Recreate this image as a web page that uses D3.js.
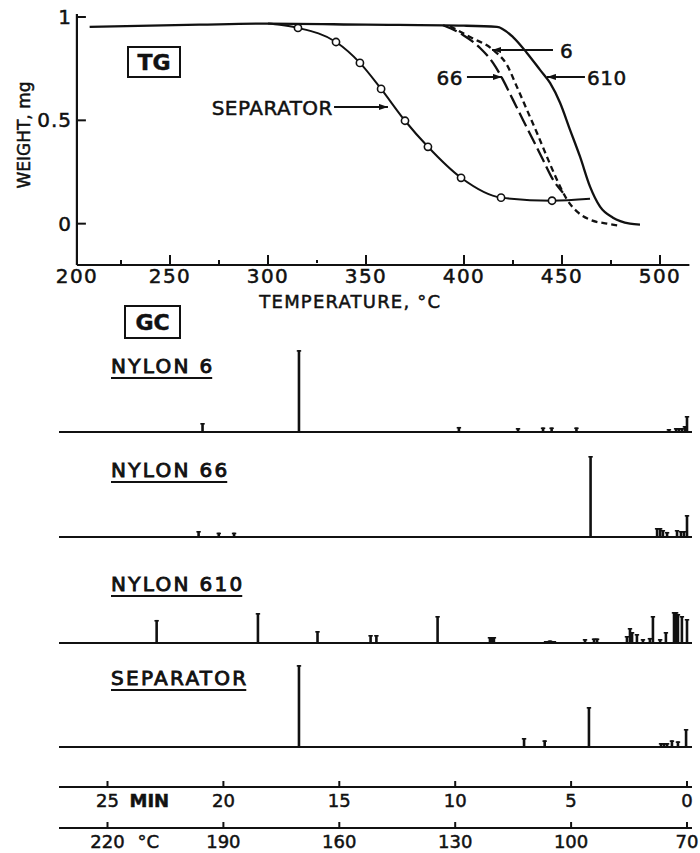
<!DOCTYPE html>
<html>
<head>
<meta charset="utf-8">
<script src="https://cdn.jsdelivr.net/npm/d3@7"></script>
<style>
body { margin:0; background:#fff; }
text { font-family:"DejaVu Sans", sans-serif; fill:#111; stroke:#111; stroke-width:0.5; }
</style>
</head>
<body>
<svg id="chart" width="700" height="853"></svg>
<script>
// ---- TG data : temperature (°C) / weight (mg)
const tgTicks = [200, 250, 300, 350, 400, 450, 500];
const tgMinorTicks = [225, 275, 425, 475];
const tgDotTicks = [325];
const weightTicks = [0, 0.5, 1];
const weightLabels = ["0", "0.5", "1"];

const nylon610 = [[209,0.952],[265,0.963],[300,0.968],[350,0.963],[400,0.958],[416.8,0.952],[425,0.903],[432.1,0.826],[438.8,0.744],[443.9,0.681],[449,0.585],[454.1,0.454],[459.2,0.324],[464.3,0.179],[469.4,0.082],[476,0.029],[484.7,0.0],[489.8,-0.005]];
const nylon6 = [[392.9,0.955],[403.1,0.903],[414.8,0.841],[421.9,0.768],[427,0.662],[432.1,0.551],[437.2,0.44],[442.3,0.324],[447.4,0.213],[452.6,0.116],[457.7,0.058],[464.3,0.019],[473,0.0],[479.6,-0.01]];
const nylon66 = [[389.3,0.96],[399.5,0.913],[408.2,0.85],[414.8,0.778],[419.9,0.696],[425,0.599],[430.1,0.502],[435.2,0.406],[440.3,0.309],[445.4,0.213],[450.5,0.15]];
const separator = [[300,0.968],[306,0.962],[315.3,0.947],[334.7,0.879],[346.9,0.778],[357.7,0.652],[369.9,0.498],[381.6,0.372],[398.5,0.222],[418.9,0.126],[444.9,0.111],[464.3,0.12]];
const separatorMarks = separator.slice(2, 11);

// ---- GC data : retention time (min) / peak height (relative)
const minTicks = [25, 20, 15, 10, 5, 0];
const gcTempTicks = [220, 190, 160, 130, 100, 70];
const nylon6Peaks = [[20.9,10],[16.74,91],[9.84,5.6],[7.29,4.4],[6.21,5],[5.84,5],[4.77,5],[0.78,3.3],[0.47,4.4],[0.35,4.4],[0.22,4.4],[0.09,6.7],[0,17.8]];
const nylon66Peaks = [[21.07,6.7],[20.2,4.8],[19.54,4.8],[4.16,90],[1.29,10],[1.16,10],[1.04,7.8],[0.86,5.6],[0.43,7.8],[0.26,6.7],[0.13,6.7],[0,24.4]];
const nylon610Peaks = [[22.88,25.6],[18.51,33.3],[15.94,13.3],[13.65,8.9],[13.4,8.9],[10.76,30],[8.5,6.7],[8.41,6.7],[8.33,6.7],[6.08,2.2],[5.91,2.8],[5.74,2.2],[4.4,4.4],[4.01,5],[3.88,5],[2.59,7.8],[2.46,16.7],[2.37,12.2],[2.16,10],[1.9,4.4],[1.6,5.6],[1.47,30],[1.16,4.4],[0.91,12.2],[0.56,34.4],[0.47,34.4],[0.39,32.2],[0.22,30],[0,26.7]];
const separatorPeaks = [[16.74,91],[7.03,10],[6.14,7.4],[4.23,44.4],[1.12,4.4],[0.99,4.4],[0.86,4.4],[0.65,7.4],[0.39,6.3],[0.04,20]];
const gcNames = ["NYLON 6", "NYLON 66", "NYLON 610", "SEPARATOR"];
const gcSeries = [nylon6Peaks, nylon66Peaks, nylon610Peaks, separatorPeaks];

const svg = d3.select("#chart");
const ink = "#111";

svg.append("defs").append("marker")
  .attr("id", "arr").attr("viewBox", "0 0 9 6")
  .attr("refX", 9).attr("refY", 3)
  .attr("markerWidth", 9).attr("markerHeight", 6)
  .attr("markerUnits", "userSpaceOnUse").attr("orient", "auto")
  .append("path").attr("d", "M0,0L9,3L0,6z").attr("fill", ink);

/* ---------------- TG ---------------- */
const x = d3.scaleLinear().domain([200, 500]).range([72, 660]);
const y = d3.scaleLinear().domain([-0.2, 1]).range([265, 17]);
const x0 = x(202.5), yBot = y(-0.2);

const tg = svg.append("g");
// axes frame
tg.append("line").attr("x1", x0).attr("x2", x0).attr("y1", 14).attr("y2", yBot)
  .attr("stroke", ink).attr("stroke-width", 2.2);
tg.append("line").attr("x1", x0).attr("x2", x(515)).attr("y1", yBot).attr("y2", yBot)
  .attr("stroke", ink).attr("stroke-width", 2.2);

tg.selectAll(".xt").data(tgTicks.slice(1)).enter().append("line")
  .attr("x1", d => x(d)).attr("x2", d => x(d)).attr("y1", yBot).attr("y2", yBot - 10)
  .attr("stroke", ink).attr("stroke-width", 2);
tg.selectAll(".xm").data(tgMinorTicks).enter().append("line")
  .attr("x1", d => x(d)).attr("x2", d => x(d)).attr("y1", yBot).attr("y2", yBot - 5)
  .attr("stroke", ink).attr("stroke-width", 2);
tg.selectAll(".xd").data(tgDotTicks).enter().append("line")
  .attr("x1", d => x(d)).attr("x2", d => x(d)).attr("y1", yBot - 2).attr("y2", yBot - 5)
  .attr("stroke", ink).attr("stroke-width", 2);
tg.selectAll(".xl").data(tgTicks).enter().append("text")
  .attr("x", d => x(d) + (d == 200 ? 5 : 0)).attr("y", 283)
  .attr("text-anchor", "middle").attr("font-size", 20).attr("letter-spacing", 1.5)
  .text(d => d);

tg.selectAll(".yt").data(weightTicks).enter().append("line")
  .attr("x1", x0).attr("x2", x0 + 9).attr("y1", d => y(d)).attr("y2", d => y(d))
  .attr("stroke", ink).attr("stroke-width", 2);
tg.selectAll(".yl").data(weightTicks).enter().append("text")
  .attr("x", 72).attr("y", d => y(d) + 7)
  .attr("text-anchor", "end").attr("font-size", 20).attr("letter-spacing", 1)
  .text((d, i) => weightLabels[i]);

tg.append("text").attr("transform", "translate(30,135) rotate(-90)")
  .attr("text-anchor", "middle").attr("font-size", 17).text("WEIGHT, mg");
tg.append("text").attr("x", x(342)).attr("y", 308)
  .attr("text-anchor", "middle").attr("font-size", 18).attr("letter-spacing", 1.2)
  .text("TEMPERATURE, °C");

// TG box
tg.append("rect").attr("x", 128).attr("y", 47).attr("width", 52).attr("height", 30)
  .attr("fill", "none").attr("stroke", ink).attr("stroke-width", 2);
tg.append("text").attr("x", 154).attr("y", 70).attr("text-anchor", "middle")
  .attr("font-size", 22).attr("font-weight", "bold").text("TG");

// curves
const line = d3.line().x(d => x(d[0])).y(d => y(d[1])).curve(d3.curveMonotoneX);
tg.append("path").datum(nylon610).attr("d", line)
  .attr("fill", "none").attr("stroke", ink).attr("stroke-width", 2.3);
tg.append("path").datum(separator).attr("d", line)
  .attr("fill", "none").attr("stroke", ink).attr("stroke-width", 2);
tg.append("path").datum(nylon6).attr("d", line)
  .attr("fill", "none").attr("stroke", ink).attr("stroke-width", 2.3).attr("stroke-dasharray", "6,4");
tg.append("path").datum(nylon66).attr("d", line)
  .attr("fill", "none").attr("stroke", ink).attr("stroke-width", 2.3).attr("stroke-dasharray", "15,5");
tg.selectAll(".pt").data(separatorMarks).enter().append("circle")
  .attr("cx", d => x(d[0])).attr("cy", d => y(d[1])).attr("r", 3.6)
  .attr("fill", "#fff").attr("stroke", ink).attr("stroke-width", 1.6);

// arrow labels  [text, text x, text anchor, line start T, tip T, W]
const notes = [
  ["SEPARATOR", 333, "end", 333.7, 361.2, 0.565],
  ["6", 560, "start", 445.4, 414.3, 0.84],
  ["66", 463, "end", 401.5, 419.4, 0.71],
  ["610", 587, "start", 461.7, 442.3, 0.71]
];
notes.forEach(n => {
  tg.append("line").attr("x1", x(n[3])).attr("x2", x(n[4])).attr("y1", y(n[5])).attr("y2", y(n[5]))
    .attr("stroke", ink).attr("stroke-width", 2).attr("marker-end", "url(#arr)");
  tg.append("text").attr("x", n[1]).attr("y", y(n[5]) + 8).attr("text-anchor", n[2])
    .attr("font-size", 20).attr("letter-spacing", 0.5).text(n[0]);
});

/* ---------------- GC ---------------- */
const t = d3.scaleLinear().domain([25, 0]).range([107.5, 687]);
const tt = d3.scaleLinear().domain([220, 70]).range([107.5, 687]);
const h = d3.scaleLinear().domain([0, 100]).range([0, 90]);
const baselines = [432, 537, 643, 747];
const labelY = [373, 477, 591, 685];

const gc = svg.append("g");
gc.append("rect").attr("x", 125).attr("y", 306).attr("width", 55).attr("height", 32)
  .attr("fill", "none").attr("stroke", ink).attr("stroke-width", 2);
gc.append("text").attr("x", 152.5).attr("y", 330).attr("text-anchor", "middle")
  .attr("font-size", 22).attr("font-weight", "bold").text("GC");

gcSeries.forEach((peaks, i) => {
  const b = baselines[i];
  const g = gc.append("g");
  g.append("line").attr("x1", 59).attr("x2", 692).attr("y1", b).attr("y2", b)
    .attr("stroke", ink).attr("stroke-width", 2.2);
  g.selectAll(".pk").data(peaks).enter().append("line")
    .attr("x1", d => t(d[0])).attr("x2", d => t(d[0]))
    .attr("y1", b).attr("y2", d => b - h(d[1]))
    .attr("stroke", ink).attr("stroke-width", 2.6);
  g.selectAll(".cap").data(peaks).enter().append("line")
    .attr("x1", d => t(d[0]) - 2.2).attr("x2", d => t(d[0]) + 2.2)
    .attr("y1", d => b - h(d[1]) + 0.8).attr("y2", d => b - h(d[1]) + 0.8)
    .attr("stroke", ink).attr("stroke-width", 1.6);
  const lab = g.append("text").attr("x", 111).attr("y", labelY[i])
    .attr("font-size", 20).attr("letter-spacing", 2.3).style("stroke-width", 0.9)
    .text(gcNames[i]);
  const w = lab.node().getComputedTextLength() - 2.3;
  g.append("line").attr("x1", 111).attr("x2", 111 + w).attr("y1", labelY[i] + 5).attr("y2", labelY[i] + 5)
    .attr("stroke", ink).attr("stroke-width", 2);
});

// time axis
const axY1 = 787, axY2 = 828;
gc.append("line").attr("x1", 59).attr("x2", 692).attr("y1", axY1).attr("y2", axY1)
  .attr("stroke", ink).attr("stroke-width", 2.2);
gc.selectAll(".mt").data(minTicks).enter().append("line")
  .attr("x1", d => t(d)).attr("x2", d => t(d)).attr("y1", axY1).attr("y2", axY1 - 6)
  .attr("stroke", ink).attr("stroke-width", 2);
gc.selectAll(".ml").data(minTicks).enter().append("text")
  .attr("x", d => t(d)).attr("y", axY1 + 20).attr("text-anchor", "middle")
  .attr("font-size", 18).text(d => d);
gc.append("text").attr("x", t(25) + 22).attr("y", axY1 + 20).attr("font-size", 18)
  .attr("font-weight", "bold").text("MIN");

// temperature axis
gc.append("line").attr("x1", 59).attr("x2", 692).attr("y1", axY2).attr("y2", axY2)
  .attr("stroke", ink).attr("stroke-width", 2.2);
gc.selectAll(".tt").data(gcTempTicks).enter().append("line")
  .attr("x1", d => tt(d)).attr("x2", d => tt(d)).attr("y1", axY2).attr("y2", axY2 - 6)
  .attr("stroke", ink).attr("stroke-width", 2);
gc.selectAll(".tl").data(gcTempTicks).enter().append("text")
  .attr("x", d => tt(d)).attr("y", axY2 + 20).attr("text-anchor", "middle")
  .attr("font-size", 18).text(d => d);
gc.append("text").attr("x", tt(220) + 30).attr("y", axY2 + 20).attr("font-size", 18)
  .text("°C");
</script>
</body>
</html>
